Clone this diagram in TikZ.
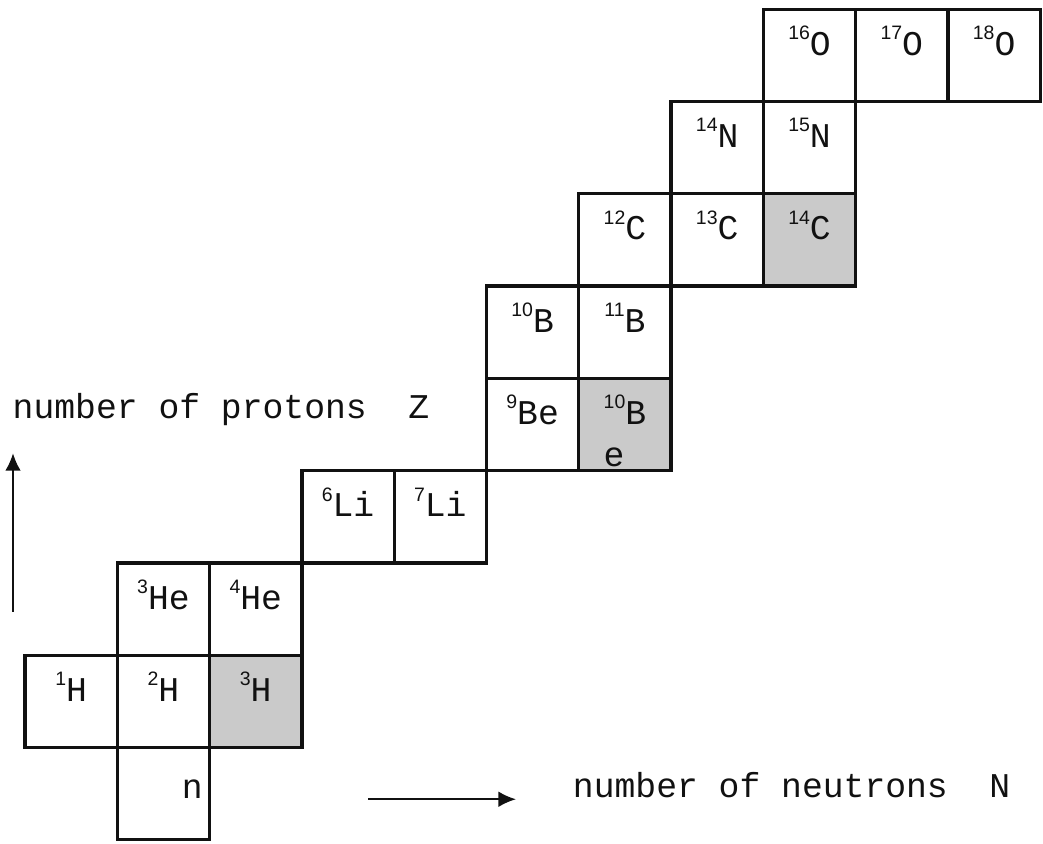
\documentclass[tikz,border=0pt]{standalone}
\usepackage{fontspec}
\setmainfont{Liberation Mono}
\setsansfont{Liberation Sans}
\usetikzlibrary{arrows.meta,positioning}
\definecolor{tint}{HTML}{CACACA}
\definecolor{ink}{HTML}{111111}
\newcommand{\nuc}[2]{\raisebox{1.7mm}{\sffamily\fontsize{6}{6}\selectfont #1}#2}

\begin{document}
\begin{tikzpicture}[
  >={Latex[length=1.9mm,width=1.7mm]},
  cell/.style={draw=ink, line width=1pt, minimum size=1cm, inner sep=0pt, text height=3mm, text depth=3mm, text=ink, font=\fontsize{10.7}{12.8}\selectfont},
  hot/.style={cell, fill=tint},
  axis/.style={font=\fontsize{10.7}{12.8}\selectfont, anchor=base west, inner sep=0pt, text=ink},
  arr/.style={->, line width=0.7pt, color=ink},
]
\useasboundingbox (-0.271,-0.043) rectangle (11.03,9.10);

% Z = 0 and 1
\node[cell, text width=8.5mm, align=right, text height=3.5mm, text depth=2.5mm] (neutron) at (1.5,0.5) {n};
\node[cell] (h1) at (0.5,1.5) {\nuc{1}{H}};
\node[cell] (h2) at (1.5,1.5) {\nuc{2}{H}};
\node[hot] (h3) at (2.5,1.5) {\nuc{3}{H}};

% Z = 2 and 3
\node[cell] (he3) at (1.5,2.5) {\nuc{3}{He}};
\node[cell] (he4) at (2.5,2.5) {\nuc{4}{He}};
\node[cell] (li6) at (3.5,3.5) {\nuc{6}{Li}};
\node[cell] (li7) at (4.5,3.5) {\nuc{7}{Li}};

% Z = 4 and 5
\node[cell] (be9) at (5.5,4.5) {\nuc{9}{Be}};
\node[hot, align=left, text height=9mm, text depth=0mm] (be10) at (6.5,4.5) {\nuc{10}{B}\\e};
\node[cell] (b10) at (5.5,5.5) {\nuc{10}{B}};
\node[cell] (b11) at (6.5,5.5) {\nuc{11}{B}};

% Z = 6, 7 and 8
\node[cell] (c12) at (6.5,6.5) {\nuc{12}{C}};
\node[cell] (c13) at (7.5,6.5) {\nuc{13}{C}};
\node[hot] (c14) at (8.5,6.5) {\nuc{14}{C}};
\node[cell] (n14) at (7.5,7.5) {\nuc{14}{N}};
\node[cell] (n15) at (8.5,7.5) {\nuc{15}{N}};
\node[cell] (o16) at (8.5,8.5) {\nuc{16}{O}};
\node[cell] (o17) at (9.5,8.5) {\nuc{17}{O}};
\node[cell] (o18) at (10.5,8.5) {\nuc{18}{O}};

% axes
\node[axis] (zlab) at (-0.14,4.57) {number of protons~~Z};
\node[axis] (nlab) at (5.93,0.455) {number of neutrons~~N};

\coordinate (zfoot) at (-0.13,2.47);
\coordinate (ztip) at (-0.13,4.19);
\coordinate (nfoot) at (3.72,0.44);
\coordinate (ntip) at (5.32,0.44);
\draw[arr] (zfoot) -- (ztip);
\draw[arr] (nfoot) -- (ntip);

\end{tikzpicture}
\end{document}
